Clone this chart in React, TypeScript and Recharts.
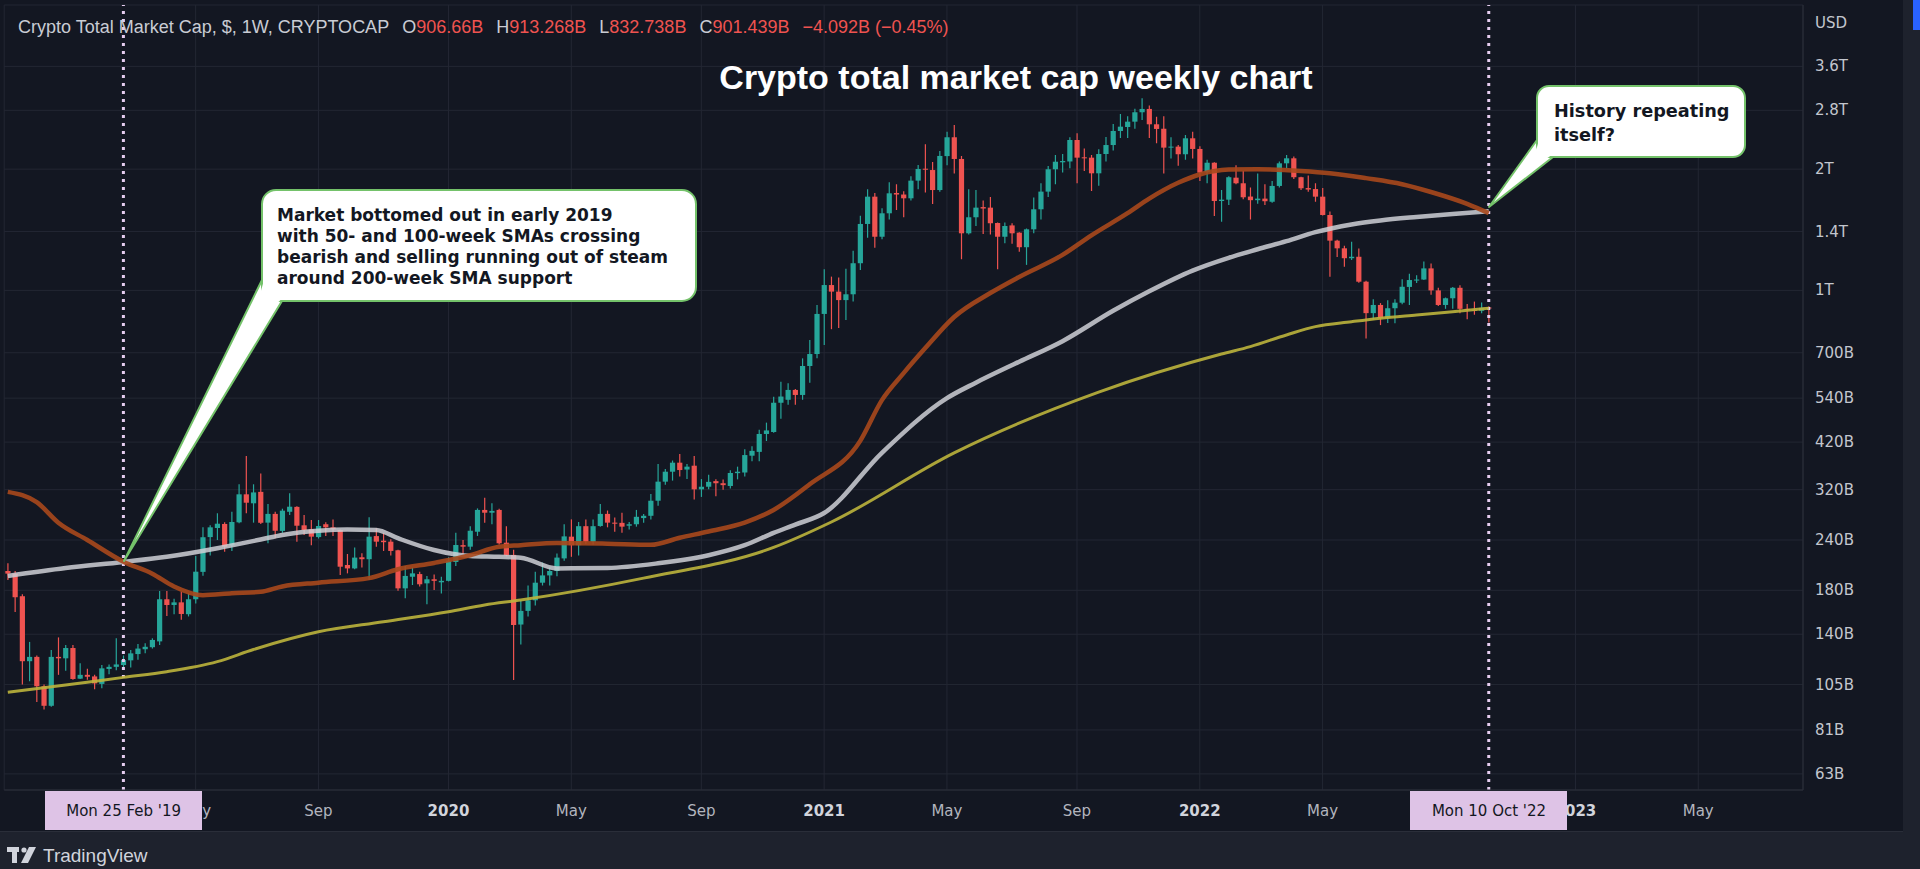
import React from "react";
import { ComposedChart, Bar, Line, XAxis, YAxis, CartesianGrid, ReferenceLine } from "recharts";

// Weekly candles (billions USD), first week = Mon 5 Nov 2018, last = Mon 10 Oct 2022. [open, high, low, close]
const candles: [number, number, number, number][] = [
  [201, 210, 191, 198], [198, 201, 159, 173], [174, 176, 105, 120], [120, 134, 107, 123], [123, 124, 95, 104],
  [104, 105, 91, 93], [93, 128, 92.5, 123], [123, 137.5, 111, 122], [122, 131.6, 113.6, 129.4], [129.4, 131.6, 108, 108.4],
  [108.6, 118.6, 108.4, 111], [111, 115, 108, 109.8], [110, 111, 102.2, 105.7], [105.4, 117.4, 102.8, 115.2], [114.8, 117.8, 111.4, 116.2],
  [116.2, 136.8, 114, 117.8], [117.4, 124, 116, 120.8], [120.6, 128, 115.8, 125.5], [125, 132.4, 121, 129], [128.5, 133, 125.5, 130.3],
  [130, 136.8, 129, 135.5], [134.4, 179.3, 131.6, 171], [171, 179.3, 155.5, 165.5], [165.5, 171.5, 157, 168], [168, 178.5, 152, 157.2],
  [157, 177, 155, 171], [171, 219, 167, 200.2], [200, 258, 195.5, 243.8], [244, 261, 219.7, 258], [257, 279.6, 240, 263.4],
  [263, 265.5, 224.4, 231], [232.7, 282, 225.4, 266], [265.5, 330, 264, 311.6], [311.6, 388, 279.6, 297], [296, 330, 265, 315],
  [316, 351, 263, 264.8], [265, 294.9, 235.5, 278.6], [278.6, 282, 242.4, 253], [252.8, 287, 250, 283.8], [282, 313.5, 276.9, 290.3],
  [290, 291, 237.7, 260.4], [261, 277, 247, 254], [255, 269, 233, 244.6], [244, 269, 242, 260], [262.6, 265.5, 245.6, 258],
  [258, 270, 245.6, 255], [254, 255, 196.5, 206], [208, 221.5, 198.3, 204], [204, 230, 203, 217], [217.4, 222.4, 205, 215],
  [215, 273.2, 191, 244.6], [245.4, 256.6, 231, 237.7], [239, 250, 225.4, 237], [237.7, 241, 219.7, 225.4], [226.3, 227, 179.6, 182],
  [182, 206.8, 172, 195.4], [194.5, 205, 185.5, 198.3], [197.5, 200, 184, 186.3], [187.3, 195.4, 166.3, 191.7], [191.7, 197, 180.4, 190],
  [188.4, 194.5, 176.7, 190], [190, 217.4, 189.4, 213.2], [211.6, 250.2, 206.8, 233.2], [233, 240, 221.5, 231], [231, 259.7, 227, 253],
  [251.6, 287.5, 245.6, 285], [285, 305.6, 265, 280.5], [280.5, 296, 262.6, 283.4], [285, 287, 234, 235.5], [236.3, 259.7, 218.7, 219.7],
  [220.4, 227, 107.8, 147.6], [148, 170, 132, 160], [160, 185, 155, 170], [170, 200, 165, 188], [188, 211, 185, 196],
  [196, 205, 185, 201], [201, 222, 195, 217], [216, 262.6, 213, 245], [244.6, 270, 218, 233], [233, 266, 219.7, 259.7],
  [259.7, 270, 235, 237.7], [237.7, 270, 234, 259.7], [260, 295, 259, 278.6], [278.6, 284, 258, 265], [265, 273, 251.6, 263.4],
  [264.7, 280.5, 250.2, 259], [260.4, 266, 255, 262.6], [262.6, 285, 259, 274], [272, 278.6, 264.7, 275.6], [275.6, 312, 270, 300.4],
  [300.4, 370.6, 291.8, 335], [335, 360, 329, 354.6], [354.6, 378, 337, 373.4], [373.4, 392.5, 345, 358], [359, 370.6, 340, 365],
  [367, 388, 302.5, 320.6], [320.6, 340, 307, 325.4], [325.4, 348.5, 320.6, 334.6], [336, 339.4, 308, 332], [332, 339, 319.7, 328.4],
  [326.8, 357.8, 322, 352], [351.7, 365, 339.4, 354.6], [353, 403, 345, 390], [388.6, 410, 376.3, 399.5], [397.2, 451, 376.3, 440],
  [440, 469.5, 422.6, 449], [445, 544.5, 443, 526], [526, 593, 480, 545], [535, 588, 520, 566], [566, 569, 520, 550],
  [550, 678, 535, 649], [649, 753, 590, 695], [695, 920, 678, 874], [874, 1128, 732, 1031], [1031, 1082, 801, 993],
  [993, 1077, 806, 946], [946, 1132, 844, 978], [978, 1255, 938, 1168], [1168, 1533, 1123, 1462], [1462, 1782, 1352, 1709],
  [1709, 1745, 1276, 1359], [1359, 1599, 1339, 1554], [1554, 1855, 1500, 1742], [1745, 1835, 1584, 1730], [1730, 1762, 1519, 1693],
  [1693, 1920, 1672, 1873], [1873, 2048, 1782, 2002], [2005, 2305, 1750, 1995], [1990, 2085, 1639, 1775], [1775, 2220, 1757, 2157],
  [2155, 2478, 2046, 2400], [2400, 2575, 1950, 2120], [2120, 2157, 1195, 1386], [1386, 1782, 1376, 1519], [1519, 1775, 1445, 1605],
  [1610, 1672, 1380, 1597], [1605, 1706, 1376, 1468], [1470, 1475, 1128, 1359], [1359, 1475, 1310, 1445], [1450, 1468, 1306, 1386],
  [1391, 1395, 1248, 1280], [1280, 1425, 1157, 1418], [1418, 1700, 1386, 1590], [1590, 1845, 1500, 1759], [1759, 2037, 1706, 1999],
  [1999, 2168, 1835, 2087], [2080, 2180, 1962, 2095], [2090, 2400, 2010, 2363], [2363, 2455, 1845, 2136], [2140, 2250, 1980, 2130],
  [2136, 2168, 1765, 1953], [1953, 2240, 1820, 2181], [2181, 2405, 2090, 2296], [2296, 2590, 2225, 2488], [2488, 2742, 2390, 2550],
  [2545, 2706, 2390, 2624], [2624, 2826, 2520, 2769], [2769, 2999, 2650, 2822], [2822, 2880, 2390, 2585], [2585, 2700, 2320, 2517],
  [2520, 2706, 1950, 2262], [2262, 2400, 2125, 2275], [2275, 2295, 2040, 2178], [2178, 2430, 2110, 2386], [2386, 2478, 2125, 2245],
  [2245, 2280, 1870, 1960], [1965, 2110, 1845, 2075], [2075, 2080, 1530, 1667], [1667, 1775, 1480, 1680], [1680, 1920, 1630, 1910],
  [1905, 2046, 1835, 1845], [1845, 1980, 1684, 1703], [1710, 1800, 1500, 1675], [1675, 1950, 1640, 1690], [1690, 1835, 1630, 1665],
  [1660, 1870, 1650, 1817], [1817, 2090, 1800, 2068], [2068, 2168, 2010, 2128], [2128, 2150, 1890, 1910], [1910, 1915, 1775, 1793],
  [1795, 1930, 1757, 1780], [1785, 1845, 1660, 1709], [1709, 1795, 1535, 1539], [1539, 1570, 1081, 1329], [1329, 1335, 1210, 1272],
  [1272, 1290, 1145, 1202], [1202, 1320, 1190, 1212], [1212, 1270, 1045, 1051], [1051, 1057, 760, 878], [878, 950, 847, 920],
  [920, 930, 820, 853], [853, 945, 830, 903], [903, 950, 829, 932], [932, 1066, 924, 1021], [1020, 1100, 920, 1061],
  [1058, 1090, 1043, 1064], [1064, 1180, 1061, 1134], [1134, 1167, 975, 1000], [1000, 1015, 915, 920], [920, 960, 900, 956],
  [956, 1020, 900, 1015], [1015, 1030, 877, 900], [900, 925, 848, 895], [895, 938, 870, 890], [890, 933, 877, 905],
  [906.66, 913.27, 832.74, 901.44],
];

// Moving averages: [week index, value in billions]
const sma50: [number, number][] = [
  [0, 316], [4, 298], [7, 265], [11, 240], [16, 212], [20, 198], [23, 184], [27, 175], [31, 177], [35, 178.5],
  [38, 184], [43, 188], [50, 193], [54, 203], [59, 210.5], [64, 220], [68, 231], [71, 233], [76, 236], [83, 235],
  [89, 233.5], [93, 243], [97, 252], [102, 265], [106, 285], [111, 330], [118, 423], [121, 534], [124, 623], [127, 719],
  [131, 859], [136, 985], [140, 1080], [146, 1225], [150, 1370], [155, 1555], [158, 1690], [162, 1850], [165, 1940], [169, 1995],
  [173, 2000], [179, 1980], [183, 1955], [188, 1900], [193, 1835], [197, 1755], [202, 1640], [205, 1555],
];
const sma100: [number, number][] = [
  [0, 195.4], [8, 204.5], [16, 211.7], [22, 218], [29, 229], [35, 240.7], [38, 247], [43, 253], [47, 254.8], [51, 254],
  [54, 242.4], [59, 226.6], [64, 219], [68, 218], [71, 216.8], [76, 204], [83, 204.5], [90, 210], [97, 220], [102, 233],
  [106, 250], [109, 262], [113, 280], [121, 395], [130, 540], [134, 590], [140, 665], [146, 748], [153, 890], [158, 995],
  [164, 1120], [169, 1205], [173, 1265], [177, 1325], [181, 1395], [186, 1458], [190, 1492], [195, 1522], [200, 1548], [205, 1572],
];
const sma200: [number, number][] = [
  [0, 100.5], [8, 104.7], [16, 109.4], [22, 113], [29, 119.7], [34, 128.3], [43, 142], [52, 150.4], [61, 159.3], [66, 165.5],
  [71, 170.3], [88, 193], [106, 230], [114, 266], [131, 395], [151, 559], [168, 695], [172, 725], [177, 775], [181, 813],
  [186, 836], [190, 853], [195, 869], [200, 885], [205, 903],
];

const priceTicks = [63, 81, 105, 140, 180, 240, 320, 420, 540, 700, 1000, 1400, 2000, 2800, 3600];
const priceTickLabels = ["63B", "81B", "105B", "140B", "180B", "240B", "320B", "420B", "540B", "700B", "1T", "1.4T", "2T", "2.8T", "3.6T"];
const timeTicks = [26, 43, 61, 78, 96, 113, 130, 148, 165, 182, 217, 234];
const timeTickLabels = ["May", "Sep", "2020", "May", "Sep", "2021", "May", "Sep", "2022", "May", "2023", "May"];

const SLOT_COUNT = 249;
const UP = "#26a69a";
const DOWN = "#ef5350";
const BG = "#131722";

const lookup = (pts: [number, number][], i: number) => {
  const p = pts.find((q) => q[0] === i);
  return p ? p[1] : null;
};

const data = Array.from({ length: SLOT_COUNT }, (_, i) => {
  const c = candles[i];
  return {
    i,
    range: c ? [c[2], c[1]] : null,
    o: c ? c[0] : null,
    h: c ? c[1] : null,
    l: c ? c[2] : null,
    c: c ? c[3] : null,
    s50: lookup(sma50, i),
    s100: lookup(sma100, i),
    s200: lookup(sma200, i),
  };
});

const CandleShape = (props: any) => {
  const { x, y, width, height, payload } = props;
  if (!payload || payload.o == null || x == null || y == null) return null;
  const { o, h, l, c } = payload;
  const top = Math.min(y, y + height);
  const bot = Math.max(y, y + height);
  const lh = Math.log(h);
  const ll = Math.log(l);
  const span = lh - ll || 1;
  const py = (v: number) => top + ((bot - top) * (lh - Math.log(v))) / span;
  const cx = x + width / 2;
  const color = c >= o ? UP : DOWN;
  const yo = py(o);
  const yc = py(c);
  const bt = Math.min(yo, yc);
  const bh = Math.max(1, Math.abs(yo - yc));
  return (
    <g>
      <line x1={cx} x2={cx} y1={top} y2={bot} stroke={color} strokeWidth={1.2} />
      <rect x={cx - 2.6} y={bt} width={5.2} height={bh} fill={color} />
    </g>
  );
};

const PriceTick = (props: any) => {
  const { y, payload, index } = props;
  const idx = priceTicks.indexOf(payload.value);
  return (
    <text x={1815} y={y + 5} fill="#c3c6ce" fontSize={15} fontFamily="DejaVu Sans" textAnchor="start">
      {priceTickLabels[idx >= 0 ? idx : index]}
    </text>
  );
};

const TimeTick = (props: any) => {
  const { x, payload } = props;
  const idx = timeTicks.indexOf(payload.value);
  const label = timeTickLabels[idx];
  const bold = /^\d{4}$/.test(label || "");
  return (
    <text x={x} y={816} fill={bold ? "#d1d4dc" : "#b2b5be"} fontSize={15} fontWeight={bold ? 700 : 400} fontFamily="DejaVu Sans" textAnchor="middle">
      {label}
    </text>
  );
};

const FONT_CALL = "DejaVu Sans";

export default function App() {
  return (
    <div style={{ position: "absolute", left: 0, top: 0, width: 1920, height: 869, background: "#1e222d", overflow: "hidden" }}>
      <div style={{ position: "absolute", left: 0, top: 0, width: 1903, height: 832, background: BG }}>
        <ComposedChart width={1903} height={832} data={data} margin={{ top: 5, right: 0, bottom: 0, left: 4.2 }}>
          <CartesianGrid stroke="#232733" strokeWidth={1} />
          <XAxis
            dataKey="i"
            type="category"
            ticks={timeTicks}
            interval={0}
            height={42}
            tickLine={false}
            axisLine={{ stroke: "#2a2e39" }}
            tick={<TimeTick />}
          />
          <YAxis
            orientation="right"
            scale="log"
            domain={[57.46, 5113]}
            allowDataOverflow
            ticks={priceTicks}
            interval={0}
            width={100}
            tickLine={false}
            axisLine={{ stroke: "#2a2e39" }}
            tick={<PriceTick />}
          />
          <ReferenceLine x={16} stroke="#e6cdf0" strokeWidth={3} strokeDasharray="3 5" />
          <ReferenceLine x={205} stroke="#e6cdf0" strokeWidth={3} strokeDasharray="3 5" />
          <Bar dataKey="range" shape={<CandleShape />} isAnimationActive={false} />
          <Line dataKey="s200" type="monotone" stroke="#bdb43c" strokeWidth={3} dot={false} connectNulls isAnimationActive={false} strokeOpacity={0.9} />
          <Line dataKey="s100" type="monotone" stroke="#cfd0d6" strokeWidth={4.5} dot={false} connectNulls isAnimationActive={false} strokeOpacity={0.85} />
          <Line dataKey="s50" type="monotone" stroke="#a8481c" strokeWidth={4.5} dot={false} connectNulls isAnimationActive={false} strokeOpacity={0.9} />
        </ComposedChart>
      </div>

      <svg width={1920} height={869} style={{ position: "absolute", left: 0, top: 0, pointerEvents: "none" }}>
        {/* header legend */}
        <text x={18} y={33} fontSize={18} fontFamily="Liberation Sans" fill="#c9ccd4">
          Crypto Total Market Cap, $, 1W, CRYPTOCAP
          <tspan dx={13}>O</tspan>
          <tspan fill={DOWN}>906.66B</tspan>
          <tspan dx={13}>H</tspan>
          <tspan fill={DOWN}>913.268B</tspan>
          <tspan dx={13}>L</tspan>
          <tspan fill={DOWN}>832.738B</tspan>
          <tspan dx={13}>C</tspan>
          <tspan fill={DOWN}>901.439B</tspan>
          <tspan dx={13} fill={DOWN}>−4.092B (−0.45%)</tspan>
        </text>
        {/* USD */}
        <text x={1815} y={28} fontSize={15} fontFamily="DejaVu Sans" fill="#c3c6ce">USD</text>
        {/* title */}
        <text x={1016} y={89} textAnchor="middle" fontSize={34} fontWeight={700} fontFamily="Liberation Sans" fill="#ffffff">
          Crypto total market cap weekly chart
        </text>

        {/* big callout */}
        <polygon points="262,280 282,301 124,561" fill="#ffffff" stroke="#74c26a" strokeWidth={2} strokeLinejoin="round" />
        <rect x={262} y={190} width={434} height={111} rx={14} fill="#ffffff" stroke="#74c26a" strokeWidth={2} />
        <polygon points="263.5,282 281,299.5 250,330" fill="#ffffff" />
        <g fontFamily={FONT_CALL} fontWeight={700} fontSize={17} fill="#131722">
          <text x={277} y={221}>Market bottomed out in early 2019</text>
          <text x={277} y={242}>with 50- and 100-week SMAs crossing</text>
          <text x={277} y={263}>bearish and selling running out of steam</text>
          <text x={277} y={284}>around 200-week SMA support</text>
        </g>

        {/* small callout */}
        <polygon points="1537,140 1553,157 1489,207" fill="#ffffff" stroke="#74c26a" strokeWidth={2} strokeLinejoin="round" />
        <rect x={1537} y={86} width={208} height={71} rx={12} fill="#ffffff" stroke="#74c26a" strokeWidth={2} />
        <polygon points="1538.5,142 1551,155.5 1530,170" fill="#ffffff" />
        <g fontFamily={FONT_CALL} fontWeight={700} fontSize={17.7} fill="#131722">
          <text x={1554} y={117}>History repeating</text>
          <text x={1554} y={141}>itself?</text>
        </g>

        {/* date badges */}
        <rect x={45} y={791} width={157} height={39} fill="#dec3e6" />
        <text x={123.6} y={816} textAnchor="middle" fontSize={15} fontFamily="DejaVu Sans" fill="#131722">Mon 25 Feb '19</text>
        <rect x={1410} y={791} width={157} height={39} fill="#dec3e6" />
        <text x={1489} y={816} textAnchor="middle" fontSize={15} fontFamily="DejaVu Sans" fill="#131722">Mon 10 Oct '22</text>

        {/* price axis bottom border */}
        <line x1={0} x2={1903} y1={831.5} y2={831.5} stroke="#2a2e39" />

        {/* logo */}
        <g fill="#d1d4dc">
          <rect x={7} y={847} width={12} height={5} />
          <rect x={12} y={847} width={5} height={16} />
          <circle cx={24} cy={850} r={2.6} />
          <polygon points="29,847 36,847 28,863 21,863" />
        </g>
        <text x={43} y={862} fontSize={19} fontFamily="Liberation Sans" fill="#d1d4dc">TradingView</text>

        {/* right edge strip */}
        <rect x={1903} y={0} width={17} height={869} fill="#1e222d" />
        <rect x={1913} y={0} width={7} height={30} fill="#2962ff" />
      </svg>
    </div>
  );
}
